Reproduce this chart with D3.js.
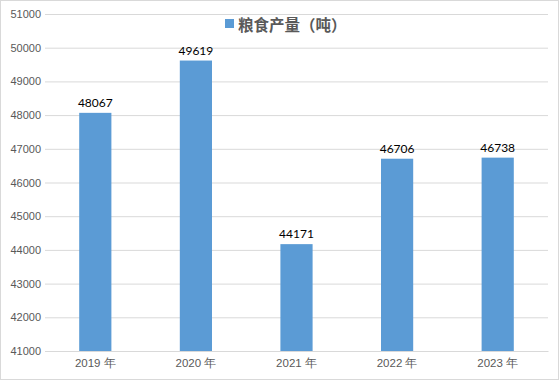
<!DOCTYPE html>
<html>
<head>
<meta charset="utf-8">
<script src="https://cdn.jsdelivr.net/npm/d3@7"></script>
<style>
  html, body { margin: 0; padding: 0; background: #fff; }
  svg { display: block; font-family: Lato, "Noto Sans CJK SC", sans-serif; }
</style>
</head>
<body>
<div id="chart"></div>
<script>
// grain output per year
const years = ["2019 年", "2020 年", "2021 年", "2022 年", "2023 年"];
const output = [48067, 49619, 44171, 46706, 46738];
const yTicks = [41000, 42000, 43000, 44000, 45000, 46000, 47000, 48000, 49000, 50000, 51000];
const seriesName = "粮食产量（吨）";

const W = 559, H = 380;
const margin = { top: 14, right: 11, bottom: 29, left: 45 };

const svg = d3.select("#chart").append("svg")
    .attr("width", W).attr("height", H);

// outer frame
svg.append("rect")
    .attr("x", 0.5).attr("y", 0.5)
    .attr("width", W - 1).attr("height", H - 1)
    .attr("fill", "#fff").attr("stroke", "#d9d9d9");

const x = d3.scaleBand()
    .domain(years)
    .range([margin.left, W - margin.right])
    .paddingInner(0.68).paddingOuter(0.34);

const y = d3.scaleLinear()
    .domain([41000, 51000])
    .range([H - margin.bottom, margin.top]);

// gridlines + y labels
const yAxis = svg.append("g")
    .attr("transform", `translate(${margin.left},0)`)
    .call(d3.axisLeft(y).tickValues(yTicks).tickSize(-(W - margin.left - margin.right)).tickFormat(d3.format("d")));
yAxis.select(".domain").remove();
yAxis.selectAll(".tick line").attr("stroke", "#d9d9d9");
yAxis.selectAll(".tick text")
    .attr("x", -4)
    .attr("fill", "#595959")
    .style("font-size", "11px");

// bars
svg.append("g")
    .selectAll("rect")
    .data(output)
    .join("rect")
    .attr("x", (d, i) => x(years[i]))
    .attr("y", d => y(d))
    .attr("width", x.bandwidth())
    .attr("height", d => y(41000) - y(d))
    .attr("fill", "#5b9bd5");

// value labels
svg.append("g")
    .selectAll("text")
    .data(output)
    .join("text")
    .attr("x", (d, i) => x(years[i]) + x.bandwidth() / 2)
    .attr("y", d => y(d) - 6)
    .attr("text-anchor", "middle")
    .attr("fill", "#000")
    .style("font-size", "12px")
    .text(d => d);

// x labels
const xAxis = svg.append("g")
    .attr("transform", `translate(0,${H - margin.bottom})`)
    .call(d3.axisBottom(x).tickSize(0));
xAxis.select(".domain").attr("stroke", "#d9d9d9");
xAxis.selectAll(".tick text")
    .attr("dy", "1.15em")
    .attr("fill", "#595959")
    .style("font-size", "11.5px");

// legend / title
const legend = svg.append("g").attr("transform", "translate(225,18)");
legend.append("rect")
    .attr("width", 9).attr("height", 9).attr("y", 1)
    .attr("fill", "#5b9bd5");
legend.append("text")
    .attr("x", 13).attr("y", 13)
    .attr("fill", "#595959")
    .style("font-size", "15.5px")
    .style("font-weight", "bold")
    .style("font-family", "'Noto Sans CJK SC', sans-serif")
    .text(seriesName);
</script>
</body>
</html>
